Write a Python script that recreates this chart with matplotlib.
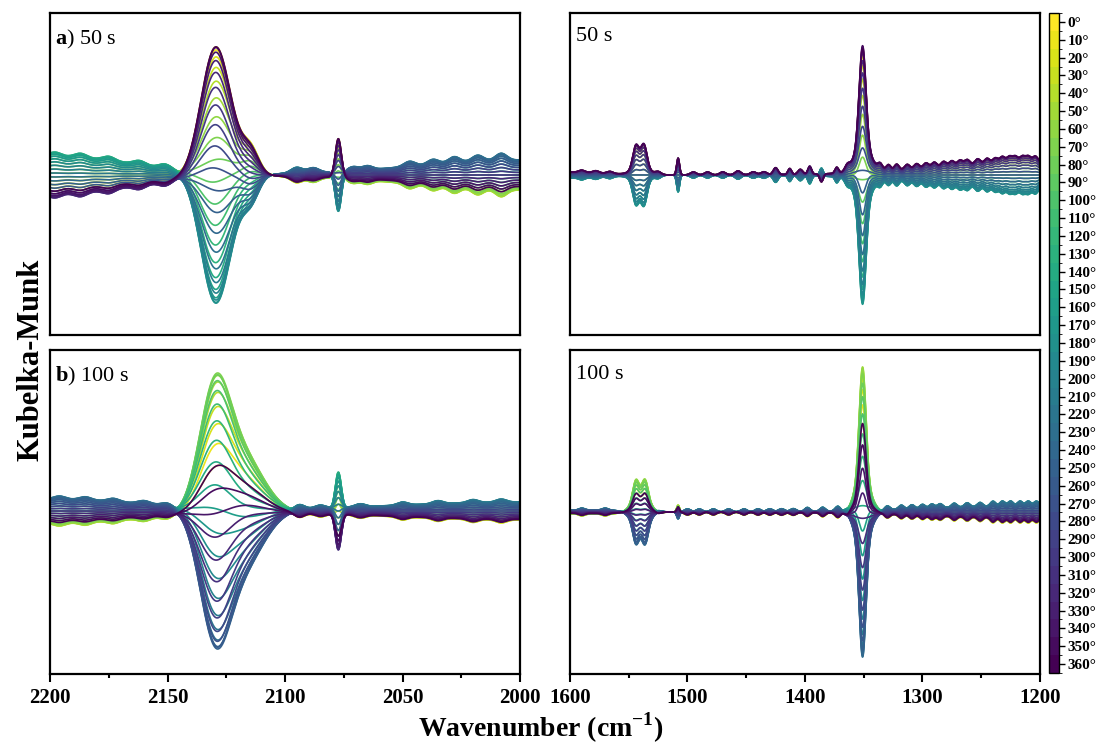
import numpy as np
import matplotlib
matplotlib.use("Agg")
import matplotlib.pyplot as plt
import matplotlib as mpl
from matplotlib.colors import ListedColormap, BoundaryNorm
from matplotlib.ticker import MultipleLocator

plt.rcParams['font.family'] = ['Liberation Serif', 'DejaVu Serif']
plt.rcParams['mathtext.fontset'] = 'custom'
plt.rcParams['mathtext.rm'] = 'Liberation Serif'
plt.rcParams['mathtext.bf'] = 'Liberation Serif:bold'

# === Angulos de fase (0..360 cada 10) ===
angulos = list(range(0, 361, 10))
etiquetas_cb = [f"{a}°" for a in angulos]

# === Bandas: centro (cm-1), sigma (cm-1), amplitud, fase (grados) ===
# a) 50 s, region CO (2200-2000)
a_izq_centros = [2130, 2123, 2114.5, 2077.3, 2095, 2200, 2000,
                 2198, 2187, 2175, 2162, 2151,
                 2088, 2071, 2065, 2047, 2037, 2028, 2018, 2008]
a_izq_anchos = [6, 6, 3.5, 1.3, 2.5, 35, 45,
                2.6, 2.6, 2.6, 2.6, 2.6,
                2.4, 2.2, 2.2, 2.4, 2.4, 2.4, 2.4, 2.4]
a_izq_amps = [120, 20, 22, 39, 6, 19, 15,
              4, 4, 4, 4, 4,
              5, 4, 4, 5, 5, 6, 6, 7]
a_izq_fases = [355, 10, 20, 0, 200, 135, 220,
               135, 135, 135, 135, 135,
               220, 220, 220, 220, 220, 220, 220, 220]

# b) 100 s, region CO
b_izq_centros = [2130, 2118, 2077.3, 2200, 2000,
                 2196, 2185, 2173, 2160, 2150,
                 2094, 2085, 2068, 2050, 2035, 2020, 2008]
b_izq_anchos = [6.5, 9, 1.3, 40, 55,
                2.5, 2.5, 2.5, 2.5, 2.5,
                2.2, 2.2, 2.2, 2.2, 2.2, 2.2, 2.2]
b_izq_amps = [116, 55, 38, 12, 9,
              3, 3, 3, 3, 3,
              5, 3, 3, 3, 3, 3, 3]
b_izq_fases = [72, 62, 125, 220, 200,
               220, 220, 220, 220, 220,
               200, 200, 200, 200, 200, 200, 200]

# a) 50 s, region 1600-1200
a_der_centros = [1351, 1351, 1544, 1537, 1540, 1508, 1210, 1600,
                 1590, 1578, 1566, 1525, 1495, 1483, 1470, 1457, 1444, 1435,
                 1425, 1413, 1404, 1396, 1386, 1373, 1364,
                 1336, 1329, 1322, 1313, 1305, 1297, 1290, 1282, 1275, 1268,
                 1262, 1253, 1245, 1238, 1232, 1226, 1221, 1215, 1210, 1204]
a_der_anchos = [2.8, 7, 2.5, 2.5, 6, 1.2, 80, 30,
                2.5, 2.5, 2.5, 2.5, 2.5, 2.5, 2.5, 2.5, 2.5, 2.5,
                2, 1.5, 2, 1.5, 1.5, 1.5, 2,
                2, 2, 2, 2.2, 2.2, 2.2, 2.2, 2.2, 2.2, 2.2,
                2.2, 2.2, 2.2, 2.2, 2.2, 2.2, 2.2, 2.2, 2.2, 2.2]
a_der_amps = [100, 27, 20, 20, 12, 17, 13, 3,
              2, 2, 2, 3, 3, 3, 3, 4, 3, 3,
              7, 6, 5, 8, 8, 6, 5,
              6, 6, 6, 5, 5, 5, 5, 5, 5, 5,
              5, 5, 5, 5, 6, 6, 6, 6, 6, 6]
a_der_fases = [350, 340, 350, 350, 350, 350, 350, 350,
               350, 350, 350, 350, 350, 350, 350, 350, 350, 350,
               350, 350, 350, 340, 170, 350, 350,
               350, 350, 350, 350, 350, 350, 350, 350, 350, 350,
               350, 350, 350, 350, 350, 350, 350, 350, 350, 350]

# b) 100 s, region 1600-1200
b_der_centros = [1351, 1351, 1544, 1536, 1540, 1508, 1220, 1580,
                 1590, 1570, 1525, 1500, 1490, 1478, 1465, 1452, 1440, 1430, 1420,
                 1410, 1398, 1385, 1372, 1364,
                 1330, 1318, 1309, 1300, 1292, 1285, 1273, 1262, 1251, 1240,
                 1232, 1225, 1217, 1210, 1203]
b_der_anchos = [2.8, 7, 2.5, 2.5, 7, 1.2, 80, 30,
                2.5, 2.5, 2.5, 2.5, 2.5, 2.5, 2.5, 2.5, 2.5, 2.5, 2.5,
                2.5, 2.2, 2.2, 2.2, 2.2,
                2.2, 2.2, 2.2, 2.2, 2.2, 2.2, 2.2, 2.2, 2.2, 2.2,
                2.2, 2.2, 2.2, 2.2, 2.2]
b_der_amps = [115, 32, 18, 18, 18, 7, 6, 2,
              2, 2, 2, 3, 3, 3, 3, 3, 3, 3, 3,
              3, 4, 4, 5, 4,
              4, 4, 4, 4, 4, 4, 4, 4, 4, 5,
              5, 5, 5, 5, 5]
b_der_fases = [50, 60, 55, 55, 55, 40, 200, 220,
               200, 200, 200, 200, 200, 200, 200, 200, 200, 200, 200,
               200, 200, 200, 200, 200,
               200, 200, 200, 200, 200, 200, 200, 200, 200, 200,
               200, 200, 200, 200, 200]


def espectro(x, centros, anchos, amps, fases, theta):
    y = np.zeros_like(x)
    for c, s, a, f in zip(centros, anchos, amps, fases):
        y += a * np.cos(np.radians(theta - f)) * np.exp(-0.5 * ((x - c) / s) ** 2)
    return y


# === Colores: 0 grados amarillo -> 360 grados morado ===
colores = [plt.cm.viridis(1 - a / 360) for a in angulos]

fig = plt.figure(figsize=(11.05, 7.5), dpi=100)

W, H = 1105, 750
paneles = [
    # (x0, y_top, y_bot, rango, bandas, letra, texto, ylim)
    (50, 13, 335, (2200, 2000), (a_izq_centros, a_izq_anchos, a_izq_amps, a_izq_fases), "a", "50 s", (-160, 162)),
    (570, 13, 335, (1600, 1200), (a_der_centros, a_der_anchos, a_der_amps, a_der_fases), None, "50 s", (-160, 162)),
    (50, 350, 674, (2200, 2000), (b_izq_centros, b_izq_anchos, b_izq_amps, b_izq_fases), "b", "100 s", (-163, 161)),
    (570, 350, 674, (1600, 1200), (b_der_centros, b_der_anchos, b_der_amps, b_der_fases), None, "100 s", (-162, 162)),
]

for k, (x0, yt, yb, rango, bandas, letra, tiempo, ylim) in enumerate(paneles):
    ax = fig.add_axes([x0 / W, 1 - yb / H, 470 / W, (yb - yt) / H])
    x = np.linspace(rango[0], rango[1], 1500)
    for i, th in enumerate(angulos):
        y = espectro(x, *bandas, th)
        ax.plot(x, y, color=colores[i], lw=1.2)
    ax.set_xlim(rango)
    ax.set_ylim(ylim)
    ax.set_yticks([])
    for s in ax.spines.values():
        s.set_linewidth(1.6)
    if letra:
        ax.text(0.01, 0.955, rf"$\mathbf{{{letra}}}$) {tiempo}", transform=ax.transAxes,
                fontsize=16, va='top', ha='left')
    else:
        ax.text(0.013, 0.955, tiempo, transform=ax.transAxes,
                fontsize=16, va='top', ha='left')
    if k < 2:
        ax.tick_params(bottom=False, labelbottom=False)
    else:
        paso = 50 if rango[0] > 2000 else 100
        ax.xaxis.set_major_locator(MultipleLocator(paso))
        ax.xaxis.set_minor_locator(MultipleLocator(paso / 2))
        ax.tick_params(axis='x', which='major', direction='out', length=6, width=1.5,
                       labelsize=15, pad=4)
        ax.tick_params(axis='x', which='minor', direction='out', length=3, width=1.5)
        for lab in ax.get_xticklabels():
            lab.set_fontweight('bold')

# === Barra de color discreta ===
cax = fig.add_axes([1049 / W, 1 - 673 / H, 10 / W, 660 / H])
cmap = ListedColormap(colores)
limites = np.arange(-5, 370, 10)
norm = BoundaryNorm(limites, cmap.N)
cb = mpl.colorbar.ColorbarBase(cax, cmap=cmap, norm=norm, ticks=angulos)
cb.ax.invert_yaxis()
cb.ax.set_yticklabels(etiquetas_cb)
cb.outline.set_linewidth(1.0)
cb.ax.tick_params(axis='y', direction='out', length=4, width=1, labelsize=11, pad=2)
for lab in cb.ax.get_yticklabels():
    lab.set_fontweight('bold')

fig.text(0.489, 0.018, r"Wavenumber (cm$^{\mathbf{-1}}$)", ha='center', va='baseline',
         fontsize=20, fontweight='bold')
fig.text(0.028, 0.52, "Kubelka-Munk", ha='center', va='center', rotation=90,
         fontsize=22, fontweight='bold')

fig.savefig("out.png", dpi=100)
